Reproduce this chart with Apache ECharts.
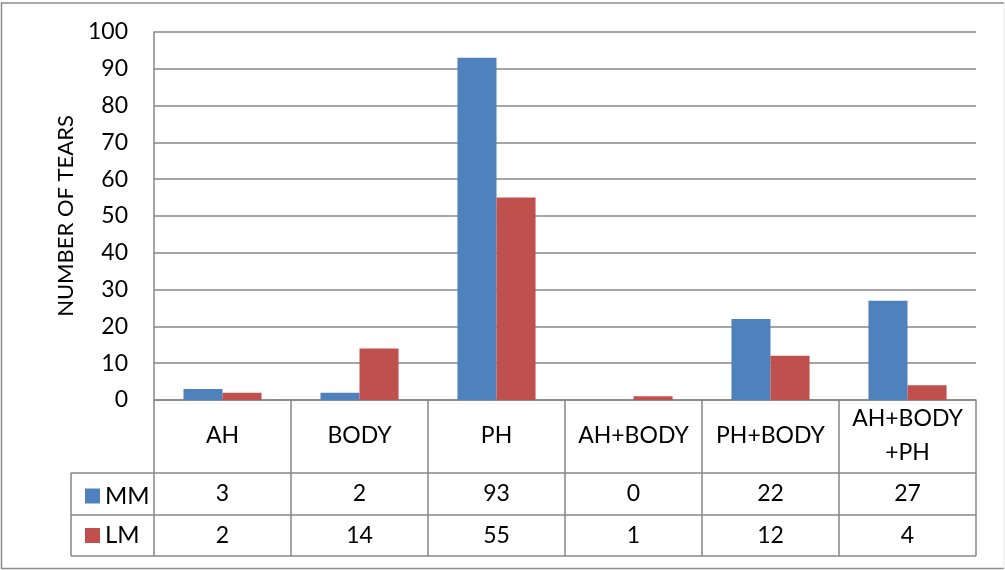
<!DOCTYPE html>
<html>
<head>
<meta charset="utf-8">
<script src="https://cdn.jsdelivr.net/npm/echarts@6/dist/echarts.min.js"></script>
<style>
html,body{margin:0;padding:0;background:#fff;}
#chart{width:1005px;height:570px;}
</style>
</head>
<body>
<div id="chart"></div>
<script>
const categories = ['AH', 'BODY', 'PH', 'AH+BODY', 'PH+BODY', 'AH+BODY\n+PH'];
const seriesNames = ['MM', 'LM'];
const mmValues = [3, 2, 93, 0, 22, 27];
const lmValues = [2, 14, 55, 1, 12, 4];
const yTicks = [0, 10, 20, 30, 40, 50, 60, 70, 80, 90, 100];

const FONT = 'Lato';
const FS = 23;
const LINE = '#878787';
const gridL = 154, gridR = 976, gridT = 32, gridB = 400;
const rowMM = 473, rowLM = 515, rowEnd = 556, tableLeft = 71;

const chart = echarts.init(document.getElementById('chart'));
chart.setOption({
  animation: false,
  textStyle: { fontFamily: FONT },
  grid: { left: gridL, right: 1005 - gridR, top: gridT, bottom: 570 - gridB, containLabel: false },
  legend: {
    orient: 'vertical', left: 80, top: rowMM + 4, itemWidth: 15, itemHeight: 15, itemGap: 11.5,
    icon: 'rect', data: seriesNames,
    textStyle: { fontFamily: FONT, fontSize: 24, color: '#000', lineHeight: 28 }
  },
  xAxis: [
    {
      type: 'category', data: categories, position: 'bottom',
      axisLine: { show: true, lineStyle: { color: LINE, width: 1.5 } },
      axisTick: { show: true, interval: 0, length: rowEnd - gridB, lineStyle: { color: LINE, width: 1.5 } },
      axisLabel: { interval: 0, fontFamily: FONT, fontSize: FS, color: '#000', lineHeight: 34, verticalAlign: 'middle', margin: 36 },
      splitLine: { show: false }
    },
    {
      type: 'category', data: mmValues.map(String), position: 'bottom',
      axisLine: { show: false }, axisTick: { show: false }, splitLine: { show: false },
      axisLabel: { interval: 0, fontFamily: FONT, fontSize: FS, color: '#000', verticalAlign: 'middle', margin: (rowMM + rowLM) / 2 - gridB }
    },
    {
      type: 'category', data: lmValues.map(String), position: 'bottom',
      axisLine: { show: false }, axisTick: { show: false }, splitLine: { show: false },
      axisLabel: { interval: 0, fontFamily: FONT, fontSize: FS, color: '#000', verticalAlign: 'middle', margin: (rowLM + rowEnd) / 2 - gridB }
    }
  ],
  yAxis: {
    type: 'value', min: yTicks[0], max: yTicks[yTicks.length - 1], interval: yTicks[1] - yTicks[0],
    name: 'NUMBER OF TEARS', nameLocation: 'middle', nameGap: 72,
    nameTextStyle: { fontFamily: FONT, fontSize: 22, color: '#000' },
    axisLine: { show: true, lineStyle: { color: LINE, width: 1.5 } },
    axisTick: { show: false },
    axisLabel: { fontFamily: FONT, fontSize: FS, color: '#000', margin: 26 },
    splitLine: { show: true, lineStyle: { color: LINE, width: 1.5 } }
  },
  series: [
    { name: seriesNames[0], type: 'bar', xAxisIndex: 0, data: mmValues, barGap: '0%', barCategoryGap: '43%', itemStyle: { color: '#4F81BD' } },
    { name: seriesNames[1], type: 'bar', xAxisIndex: 0, data: lmValues, barGap: '0%', barCategoryGap: '43%', itemStyle: { color: '#C0504D' } }
  ],
  graphic: [
    { type: 'polyline', shape: { points: [[1004, 3], [1.5, 3], [1.5, 568.5], [1004, 568.5]] }, style: { fill: 'none', stroke: '#8c8c8c', lineWidth: 1.5 }, z: -1 },
    { type: 'line', shape: { x1: 1004, y1: 3, x2: 1004, y2: 568.5 }, style: { stroke: '#e6e6e6', lineWidth: 1 }, z: -1 },
    { type: 'line', shape: { x1: tableLeft, y1: rowMM, x2: gridR, y2: rowMM }, style: { stroke: LINE, lineWidth: 1.5 } },
    { type: 'line', shape: { x1: tableLeft, y1: rowLM, x2: gridR, y2: rowLM }, style: { stroke: LINE, lineWidth: 1.5 } },
    { type: 'line', shape: { x1: tableLeft, y1: rowEnd, x2: gridR, y2: rowEnd }, style: { stroke: LINE, lineWidth: 1.5 } },
    { type: 'line', shape: { x1: tableLeft, y1: rowMM, x2: tableLeft, y2: rowEnd }, style: { stroke: LINE, lineWidth: 1.5 } }
  ]
});
</script>
</body>
</html>
